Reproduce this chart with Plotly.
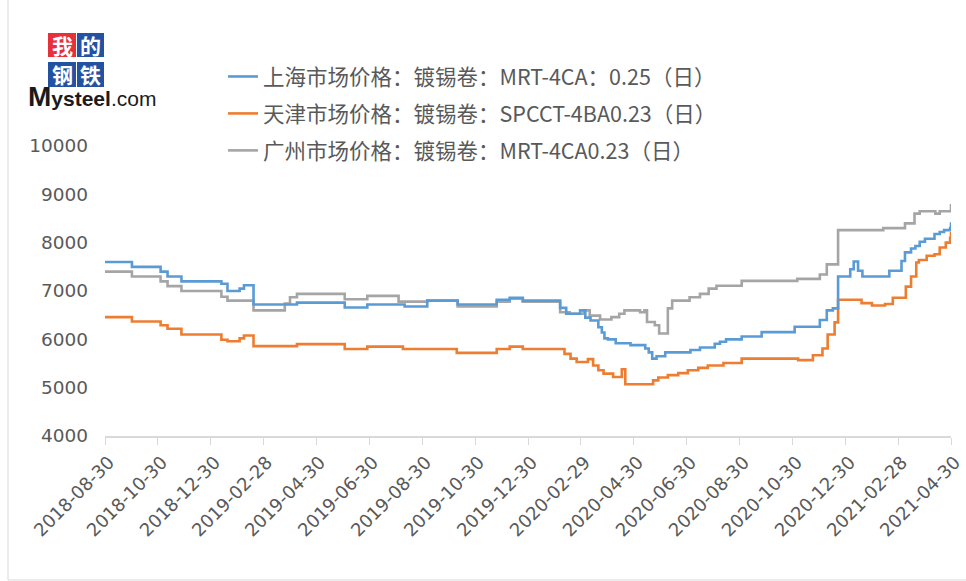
import plotly.graph_objects as go

# ---------------- data ----------------
series_names = [
    "上海市场价格：镀锡卷：MRT-4CA：0.25（日）",
    "天津市场价格：镀锡卷：SPCCT-4BA0.23（日）",
    "广州市场价格：镀锡卷：MRT-4CA0.23（日）",
]

sh_dates = [
    "2018-08-30", "2018-09-30", "2018-11-02", "2018-11-10", "2018-11-26",
    "2019-01-11", "2019-01-18", "2019-02-01", "2019-02-06", "2019-02-17",
    "2019-04-08", "2019-06-02", "2019-06-28", "2019-08-10", "2019-09-05",
    "2019-10-10", "2019-11-24", "2019-12-09", "2019-12-24", "2020-02-05",
    "2020-02-12", "2020-02-28", "2020-03-05", "2020-03-11", "2020-03-20",
    "2020-03-24", "2020-03-27", "2020-03-31", "2020-04-09", "2020-04-26",
    "2020-05-13", "2020-05-17", "2020-05-21", "2020-05-26", "2020-06-05",
    "2020-07-04", "2020-07-15", "2020-08-01", "2020-08-07", "2020-08-14",
    "2020-09-01", "2020-09-24", "2020-11-01", "2020-11-30", "2020-12-08",
    "2020-12-15", "2020-12-21", "2021-01-04", "2021-01-08", "2021-01-13",
    "2021-01-18", "2021-02-18", "2021-03-04", "2021-03-08", "2021-03-15",
    "2021-03-20", "2021-03-25", "2021-03-31", "2021-04-11", "2021-04-17",
    "2021-04-22", "2021-04-29", "2021-04-30",
]
sh_values = [
    7600, 7500, 7400, 7300, 7200,
    7150, 7000, 7050, 7120, 6720,
    6760, 6660, 6720, 6680, 6800,
    6720, 6820, 6860, 6800, 6650,
    6530, 6600, 6450, 6390, 6250,
    6140, 6020, 6000, 5920, 5880,
    5810, 5730, 5600, 5650, 5730,
    5780, 5830, 5910, 5950, 6000,
    6060, 6150, 6260, 6400, 6600,
    6640, 7300, 7450, 7610, 7420,
    7300, 7420, 7620, 7800, 7880,
    7930, 8020, 8080, 8180, 8220,
    8260, 8300, 8420,
]

tj_dates = [
    "2018-08-30", "2018-09-30", "2018-11-02", "2018-11-10", "2018-11-26",
    "2019-01-11", "2019-01-18", "2019-02-01", "2019-02-06", "2019-02-17",
    "2019-04-08", "2019-06-02", "2019-06-28", "2019-08-08", "2019-10-09",
    "2019-11-24", "2019-12-09", "2019-12-24", "2020-02-10", "2020-02-17",
    "2020-02-24", "2020-03-08", "2020-03-14", "2020-03-20", "2020-03-26",
    "2020-04-06", "2020-04-16", "2020-04-20", "2020-05-22", "2020-05-28",
    "2020-06-08", "2020-06-20", "2020-07-01", "2020-07-13", "2020-07-24",
    "2020-08-11", "2020-09-01", "2020-11-05", "2020-11-22", "2020-12-03",
    "2020-12-09", "2020-12-17", "2020-12-21", "2021-01-17", "2021-01-29",
    "2021-02-13", "2021-02-22", "2021-03-09", "2021-03-15", "2021-03-21",
    "2021-03-24", "2021-04-02", "2021-04-11", "2021-04-17", "2021-04-24",
    "2021-04-29", "2021-04-30",
]
tj_values = [
    6460, 6370, 6290, 6220, 6100,
    5990, 5960, 6020, 6080, 5860,
    5900, 5800, 5850, 5800, 5720,
    5800, 5850, 5800, 5700, 5600,
    5530, 5590, 5460, 5360, 5290,
    5220, 5380, 5070, 5150, 5210,
    5260, 5300, 5360, 5410, 5460,
    5510, 5600, 5570, 5670, 5810,
    6100, 6350, 6820, 6750, 6700,
    6730, 6860, 7090, 7300, 7590,
    7640, 7730, 7760, 7900, 8000,
    8100, 8220,
]

gz_dates = [
    "2018-08-30", "2018-09-30", "2018-11-02", "2018-11-10", "2018-11-26",
    "2019-01-11", "2019-01-18", "2019-02-17", "2019-03-25", "2019-03-31",
    "2019-04-08", "2019-06-02", "2019-06-28", "2019-08-03", "2019-09-05",
    "2019-10-10", "2019-11-24", "2019-12-09", "2019-12-24", "2020-02-05",
    "2020-02-16", "2020-03-03", "2020-03-10", "2020-03-22", "2020-04-04",
    "2020-04-13", "2020-04-19", "2020-05-07", "2020-05-12", "2020-05-15",
    "2020-05-24", "2020-05-29", "2020-06-08", "2020-06-13", "2020-07-03",
    "2020-07-15", "2020-07-25", "2020-08-03", "2020-09-01", "2020-11-04",
    "2020-11-30", "2020-12-08", "2020-12-21", "2021-02-11", "2021-03-08",
    "2021-03-19", "2021-03-25", "2021-04-12", "2021-04-17", "2021-04-30",
]
gz_values = [
    7400, 7300, 7200, 7100, 7000,
    6880, 6800, 6600, 6740, 6870,
    6940, 6830, 6900, 6780, 6800,
    6680, 6780, 6840, 6780, 6560,
    6530, 6600, 6490, 6410, 6460,
    6530, 6600, 6560, 6600, 6360,
    6290, 6120, 6640, 6800, 6870,
    6940, 7050, 7110, 7210, 7250,
    7340, 7550, 8260, 8300, 8400,
    8600, 8650, 8600, 8650, 8800,
]

x_tick_labels = [
    "2018-08-30", "2018-10-30", "2018-12-30", "2019-02-28", "2019-04-30",
    "2019-06-30", "2019-08-30", "2019-10-30", "2019-12-30", "2020-02-29",
    "2020-04-30", "2020-06-30", "2020-08-30", "2020-10-30", "2020-12-30",
    "2021-02-28", "2021-04-30",
]
y_tick_values = [4000, 5000, 6000, 7000, 8000, 9000, 10000]
y_tick_labels = ["4000", "5000", "6000", "7000", "8000", "9000", "10000"]

# ---------------- layout helpers ----------------
W, H = 966, 581
L, R, T, B = 105, 15, 146, 145


def pxx(x):
    return (x - L) / (W - L - R)


def pxy(y):
    return (H - B - y) / (H - T - B)


colors = ["#5B9BD5", "#ED7D31", "#A5A5A5"]
TEXT = "#595959"

fig = go.Figure()
order = [2, 1, 0]  # draw gray first, blue last
data = [(sh_dates, sh_values), (tj_dates, tj_values), (gz_dates, gz_values)]
for i in order:
    d, v = data[i]
    fig.add_trace(go.Scatter(
        x=d, y=v, mode="lines", name=series_names[i],
        line=dict(color=colors[i], width=2.6, shape="hv"),
        legendgroup="g%d" % i, legendrank=i + 1,
    ))

shapes = []
# outer chart border (left + bottom)
shapes.append(dict(type="line", xref="paper", yref="paper",
                   x0=pxx(8), x1=pxx(8), y0=pxy(0), y1=pxy(580),
                   line=dict(color="#D9D9D9", width=1)))
shapes.append(dict(type="line", xref="paper", yref="paper",
                   x0=pxx(8), x1=pxx(970), y0=pxy(580), y1=pxy(580),
                   line=dict(color="#D9D9D9", width=1)))

# logo squares
logo = [("我", 48, 33, 76, 57, "#E8303A"), ("的", 77, 33, 104, 57, "#2352A3"),
        ("钢", 48, 62, 76, 87, "#2352A3"), ("铁", 77, 62, 104, 87, "#2352A3")]
annotations = []
for ch, x0, y0, x1, y1, c in logo:
    shapes.append(dict(type="rect", xref="paper", yref="paper",
                       x0=pxx(x0), x1=pxx(x1), y0=pxy(y1), y1=pxy(y0),
                       fillcolor=c, line=dict(width=0), layer="above"))
    annotations.append(dict(text="<b>%s</b>" % ch, xref="paper", yref="paper",
                            x=pxx((x0 + x1) / 2), y=pxy((y0 + y1) / 2),
                            showarrow=False, xanchor="center", yanchor="middle",
                            font=dict(family="Noto Sans CJK SC", size=21, color="white")))
annotations.append(dict(
    text="<span style='font-size:28px'><b>M</b></span><b>ysteel</b>.com",
    xref="paper", yref="paper", x=pxx(26), y=pxy(96), showarrow=False,
    xanchor="left", yanchor="middle",
    font=dict(family="Liberation Sans", size=21, color="#1a1a1a")))

fig.update_layout(
    width=W, height=H,
    margin=dict(l=L, r=R, t=T, b=B, pad=0, autoexpand=False),
    paper_bgcolor="white", plot_bgcolor="white",
    showlegend=True,
    legend=dict(x=pxx(223), y=pxy(56), xanchor="left", yanchor="top",
                font=dict(family="Noto Sans CJK SC", size=21.5, color=TEXT),
                bgcolor="rgba(0,0,0,0)", tracegroupgap=6, borderwidth=0),
    shapes=shapes, annotations=annotations,
    xaxis=dict(type="date", range=[x_tick_labels[0], x_tick_labels[-1]],
               tickvals=x_tick_labels, ticktext=x_tick_labels, tickangle=-45,
               ticks="outside", ticklen=7, tickcolor="#D9D9D9", tickwidth=1,
               ticklabelshift=4, ticklabeloverflow="allow", automargin=False,
               showline=True, linecolor="#D9D9D9", linewidth=1.5,
               showgrid=False, zeroline=False,
               tickfont=dict(family="DejaVu Sans", size=18, color=TEXT)),
    yaxis=dict(range=[4000, 10000], tickvals=y_tick_values, ticktext=y_tick_labels,
               showgrid=False, zeroline=False, showline=False, ticks="",
               ticklabelstandoff=16, automargin=False,
               tickfont=dict(family="DejaVu Sans", size=18.5, color=TEXT)),
)

fig.write_html("out.html", config={"displayModeBar": False},
               post_script="document.body.style.margin='0';")
